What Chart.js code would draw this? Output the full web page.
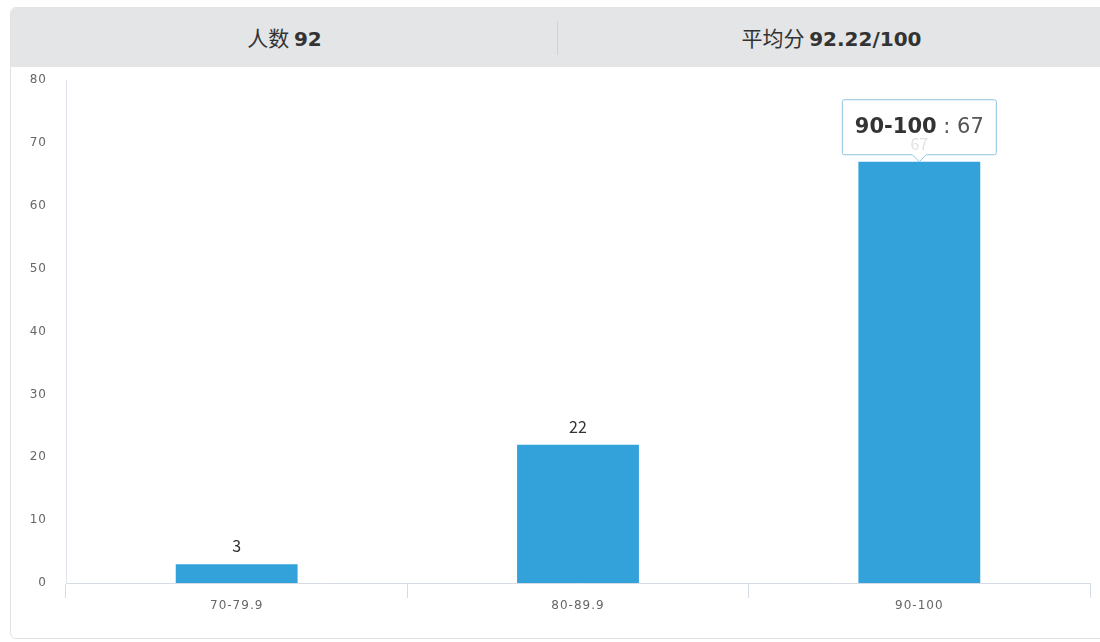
<!DOCTYPE html>
<html>
<head>
<meta charset="utf-8">
<script src="https://cdn.jsdelivr.net/npm/chart.js@4"></script>
<style>
  html, body { margin: 0; padding: 0; background: #fff; }
  body { width: 1100px; height: 642px; position: relative; overflow: hidden; font-family: "Noto Sans CJK SC", "Open Sans", sans-serif; }
  .card { position: absolute; left: 10px; top: 7px; width: 1094px; height: 630px; border: 1px solid #e1e3e5; border-radius: 6px; overflow: hidden; }
  .head { height: 59px; background: #e3e5e6; display: flex; position: relative; }
  .head div { flex: 1; text-align: center; line-height: 59px; font-size: 21px; color: #333; }
  .head div b { font-family: "DejaVu Sans", sans-serif; font-weight: 700; font-size: 20px; }
  .head .sep { position: absolute; left: 546px; top: 13px; width: 1px; height: 34px; background: #cfd2d4; }
  canvas { position: absolute; left: 0; top: 0; }
</style>
</head>
<body>
<div class="card">
  <div class="head">
    <div>人数 <b>92</b></div>
    <span class="sep"></span>
    <div>平均分 <b>92.22/100</b></div>
  </div>
</div>
<canvas id="scoreChart" width="1100" height="642"></canvas>
<script>
const categories = ['70-79.9', '80-89.9', '90-100'];
const counts = [3, 22, 67];
const yTicks = [0, 10, 20, 30, 40, 50, 60, 70, 80];
const activeIndex = 2;

// wider tick text, like the original
const tickSpacing = {
    id: 'tickSpacing',
    beforeDraw(chart) { chart.ctx.letterSpacing = '1px'; },
    beforeDatasetsDraw(chart) { chart.ctx.letterSpacing = '0px'; }
};

// numbers above bars
const valueLabels = {
    id: 'valueLabels',
    afterDatasetsDraw(chart) {
        const c = chart.ctx;
        const meta = chart.getDatasetMeta(0);
        c.save();
        c.font = '16px "Noto Sans CJK SC", "Open Sans", sans-serif';
        c.fillStyle = '#333';
        c.textAlign = 'center';
        c.textBaseline = 'middle';
        meta.data.forEach((bar, i) => {
            c.fillText(String(counts[i]), bar.x, bar.y - 18);
        });
        c.restore();
    }
};

// hover box over the active bar
const hoverBox = {
    id: 'hoverBox',
    afterDraw(chart) {
        const c = chart.ctx;
        const bar = chart.getDatasetMeta(0).data[activeIndex];
        const w = 154, h = 55, caret = 7;
        const x = bar.x - w / 2;
        const y = bar.y - caret - h;
        c.save();
        c.beginPath();
        c.moveTo(x + 2, y);
        c.lineTo(x + w - 2, y);
        c.quadraticCurveTo(x + w, y, x + w, y + 2);
        c.lineTo(x + w, y + h - 2);
        c.quadraticCurveTo(x + w, y + h, x + w - 2, y + h);
        c.lineTo(bar.x + caret, y + h);
        c.lineTo(bar.x, y + h + caret);
        c.lineTo(bar.x - caret, y + h);
        c.lineTo(x + 2, y + h);
        c.quadraticCurveTo(x, y + h, x, y + h - 2);
        c.lineTo(x, y + 2);
        c.quadraticCurveTo(x, y, x + 2, y);
        c.closePath();
        c.fillStyle = 'rgba(255,255,255,0.85)';
        c.fill();
        c.strokeStyle = '#8fc3e4';
        c.lineWidth = 1;
        c.stroke();

        const name = categories[activeIndex];
        const rest = ' : ' + counts[activeIndex];
        const boldFont = 'bold 21px "DejaVu Sans", sans-serif';
        const normFont = '21px "DejaVu Sans", sans-serif';
        c.textBaseline = 'middle';
        c.textAlign = 'left';
        c.font = boldFont;
        const nameW = c.measureText(name).width;
        c.font = normFont;
        const restW = c.measureText(rest).width;
        const tx = bar.x - (nameW + restW) / 2;
        const ty = y + h / 2;
        c.font = boldFont;
        c.fillStyle = '#333';
        c.fillText(name, tx, ty);
        c.font = normFont;
        c.fillStyle = '#555';
        c.fillText(rest, tx + nameW, ty);
        c.restore();
    }
};

new Chart(document.getElementById('scoreChart'), {
    type: 'bar',
    data: {
        labels: categories,
        datasets: [{
            data: counts,
            backgroundColor: '#33a2db',
            barPercentage: 0.357,
            categoryPercentage: 1
        }]
    },
    options: {
        responsive: false,
        animation: false,
        layout: { padding: { left: 0, top: 80, right: 10, bottom: 29 } },
        plugins: {
            legend: { display: false },
            tooltip: { enabled: false }
        },
        scales: {
            x: {
                afterFit(scale) { scale.height = 30; },
                border: { color: '#d6dce4', width: 1 },
                grid: {
                    offset: true,
                    drawOnChartArea: false,
                    drawTicks: true,
                    tickLength: 15,
                    tickColor: '#d6dce4'
                },
                ticks: {
                    color: '#666',
                    padding: 1,
                    font: { family: 'DejaVu Sans', size: 12 }
                }
            },
            y: {
                min: 0,
                max: 80,
                afterFit(scale) { scale.width = 66; },
                afterBuildTicks(scale) { scale.ticks = yTicks.map(v => ({ value: v })); },
                border: { color: '#dfe4ea', width: 1 },
                grid: { display: false, drawTicks: false },
                ticks: {
                    color: '#666',
                    padding: 19,
                    font: { family: 'DejaVu Sans', size: 12 }
                }
            }
        }
    },
    plugins: [tickSpacing, valueLabels, hoverBox]
});
</script>
</body>
</html>
